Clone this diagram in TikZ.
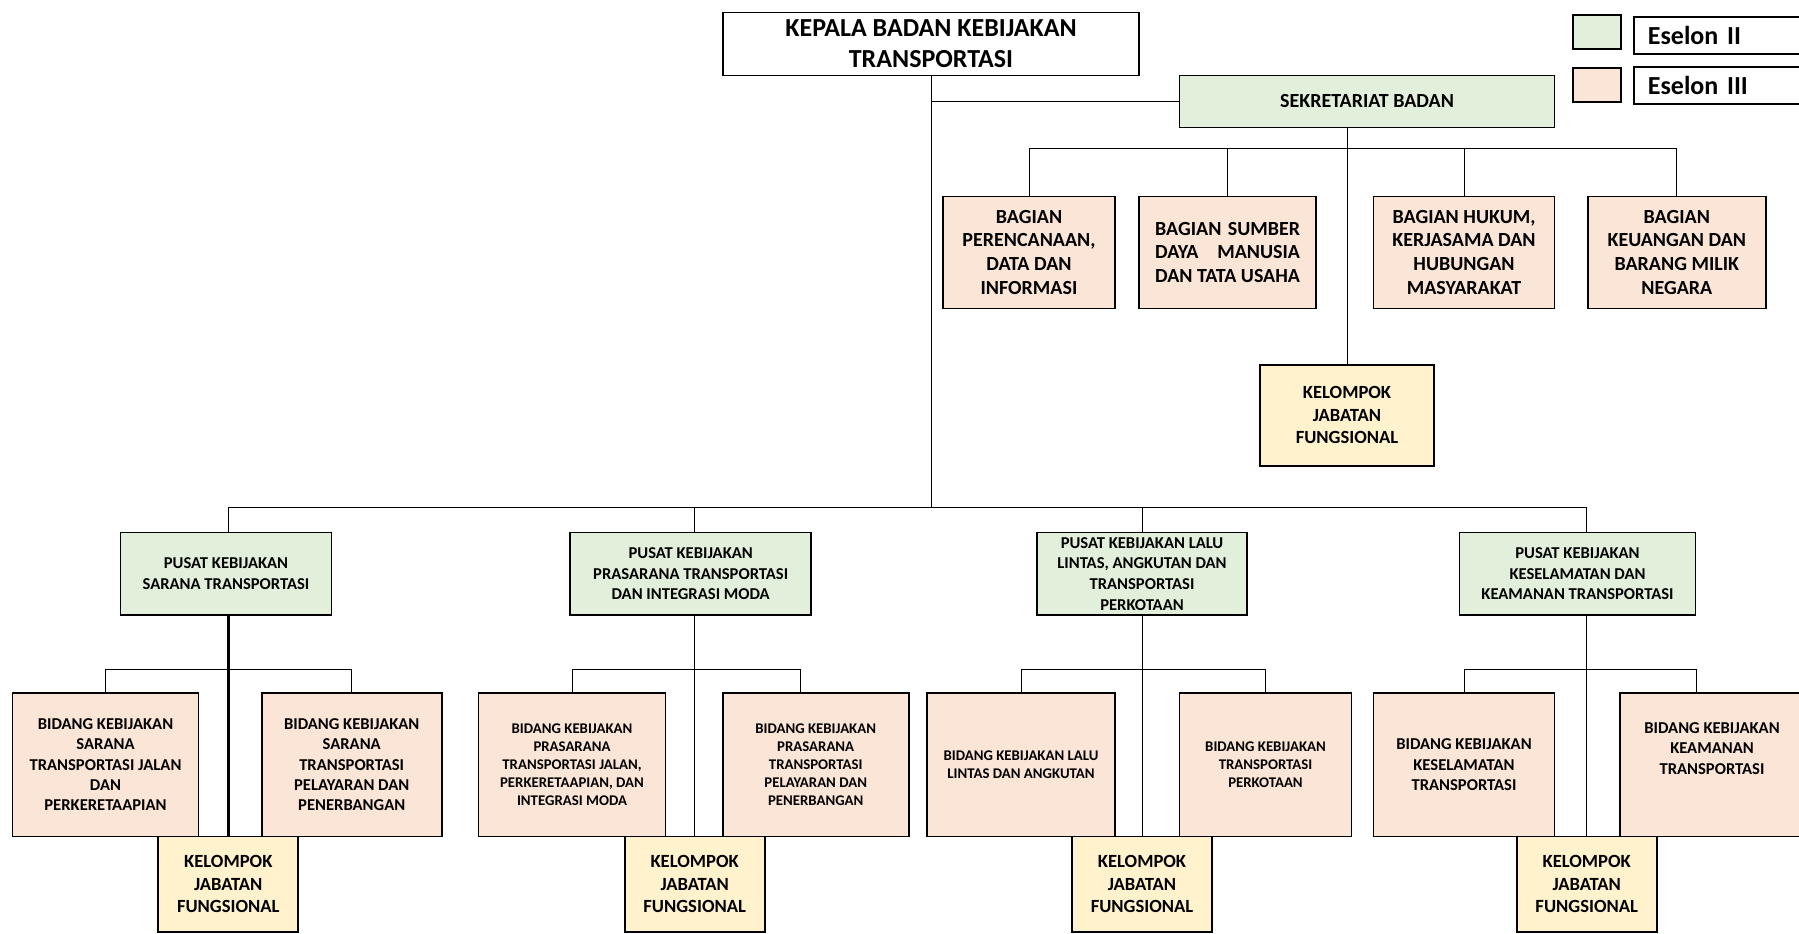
\documentclass[tikz,border=0pt]{standalone}
\usepackage{fontspec}
\usepackage{calc}
\setmainfont{Carlito}
\definecolor{esgreen}{HTML}{E2EFDA}
\definecolor{espeach}{HTML}{FBE5D6}
\definecolor{esyellow}{HTML}{FFF2CC}

\begin{document}
\begin{tikzpicture}[x=0.5pt, y=-0.5pt,
    box/.style={rectangle, draw, line width=0.9pt, inner sep=1pt, align=center},
    es2/.style={box, fill=esgreen},
    es3/.style={box, fill=espeach},
    ftitle/.style={font=\bfseries\fontsize{13}{15.5}\selectfont},
    fbag/.style={font=\bfseries\fontsize{10}{11.9}\selectfont},
    fpus/.style={font=\bfseries\fontsize{8.3}{10.3}\selectfont},
    fbid/.style={font=\bfseries\fontsize{8.3}{10.2}\selectfont},
    fsmall/.style={font=\bfseries\fontsize{7.4}{9}\selectfont},
    jfbox/.style={box, fill=esyellow, minimum width=70pt, minimum height=47.6pt,
      font=\bfseries\fontsize{9.3}{11.2}\selectfont},
    pusat/.style={es2, fpus, minimum height=41.3pt},
    bagian/.style={es3, fbag, minimum height=56pt},
    bidang/.style={es3, minimum height=71.7pt},
    leglbl/.style={draw, line width=0.9pt, anchor=west, text width=80pt, inner xsep=7pt,
      minimum height=18.5pt, align=left, ftitle},
    line/.style={line width=0.5pt}
  ]
    \clip (0,0) rectangle (1799,933);

    % Top
    \node[box, ftitle, fill=white, minimum width=208pt, minimum height=31.5pt] (kepala) at (931,44)
      {KEPALA BADAN KEBIJAKAN\\TRANSPORTASI};
    \node[es2, fbag, minimum width=187.5pt, minimum height=26pt] (sekretariat) at (1367,101.5)
      {SEKRETARIAT BADAN};

    % Legend
    \node[es2, minimum width=24pt, minimum height=17pt] (leg2) at (1597,32) {};
    \node[leglbl] (leg2txt) at (1633,35.5) {Eselon II};
    \node[es3, minimum width=24pt, minimum height=17pt] (leg3) at (1597,85) {};
    \node[leglbl] (leg3txt) at (1633,85.5) {Eselon III};

    % Bagian
    \node[bagian, minimum width=86pt] (bagian1) at (1029,252.4)
      {BAGIAN\\PERENCANAAN,\\DATA DAN\\INFORMASI};
    \node[bagian, minimum width=88.5pt] (bagian2) at (1227.6,252.4)
      {\makebox[\widthof{DAN TATA USAHA}][s]{BAGIAN SUMBER}\\
       \makebox[\widthof{DAN TATA USAHA}][s]{DAYA MANUSIA}\\DAN TATA USAHA};
    \node[bagian, minimum width=90.5pt] (bagian3) at (1464,252.4)
      {BAGIAN HUKUM,\\KERJASAMA DAN\\HUBUNGAN\\MASYARAKAT};
    \node[bagian, minimum width=89pt] (bagian4) at (1676.8,252.4)
      {BAGIAN\\KEUANGAN DAN\\BARANG MILIK\\NEGARA};
    \node[jfbox, minimum width=87pt, minimum height=50.5pt] (jfsek) at (1347,415.3)
      {KELOMPOK\\JABATAN\\FUNGSIONAL};

    % Pusat
    \node[pusat, minimum width=105.5pt] (pusat1) at (226,573.7)
      {PUSAT KEBIJAKAN\\SARANA TRANSPORTASI};
    \node[pusat, minimum width=120.5pt] (pusat2) at (690.7,573.7)
      {PUSAT KEBIJAKAN\\PRASARANA TRANSPORTASI\\DAN INTEGRASI MODA};
    \node[pusat, minimum width=105pt] (pusat3) at (1142,573.7)
      {PUSAT KEBIJAKAN LALU\\LINTAS, ANGKUTAN DAN\\TRANSPORTASI\\PERKOTAAN};
    \node[pusat, minimum width=118pt] (pusat4) at (1577.5,573.7)
      {PUSAT KEBIJAKAN\\KESELAMATAN DAN\\KEAMANAN TRANSPORTASI};

    % Bidang
    \node[bidang, fbid, minimum width=93pt] (bid1a) at (105.5,764.7)
      {BIDANG KEBIJAKAN\\SARANA\\TRANSPORTASI JALAN\\DAN\\PERKERETAAPIAN};
    \node[bidang, fbid, minimum width=90pt] (bid1b) at (351.7,764.7)
      {BIDANG KEBIJAKAN\\SARANA\\TRANSPORTASI\\PELAYARAN DAN\\PENERBANGAN};
    \node[bidang, fsmall, minimum width=93.5pt] (bid2a) at (572,764.7)
      {BIDANG KEBIJAKAN\\PRASARANA\\TRANSPORTASI JALAN,\\PERKERETAAPIAN, DAN\\INTEGRASI MODA};
    \node[bidang, fsmall, minimum width=93pt] (bid2b) at (815.7,764.7)
      {BIDANG KEBIJAKAN\\PRASARANA\\TRANSPORTASI\\PELAYARAN DAN\\PENERBANGAN};
    \node[bidang, fsmall, minimum width=94pt] (bid3a) at (1021,764.7)
      {BIDANG KEBIJAKAN LALU\\LINTAS DAN ANGKUTAN};
    \node[bidang, fsmall, minimum width=86pt] (bid3b) at (1265.5,764.7)
      {BIDANG KEBIJAKAN\\TRANSPORTASI\\PERKOTAAN};
    \node[bidang, fbid, minimum width=90.5pt] (bid4a) at (1464,764.7)
      {BIDANG KEBIJAKAN\\KESELAMATAN\\TRANSPORTASI};
    \node[bidang, fbid, minimum width=92pt] (bid4b) at (1712,764.7)
      {BIDANG KEBIJAKAN\\KEAMANAN\\TRANSPORTASI\\[6pt]};

    % Kelompok jabatan fungsional
    \node[jfbox] (jf1) at (228.3,884) {KELOMPOK\\JABATAN\\FUNGSIONAL};
    \node[jfbox] (jf2) at (694.7,884) {KELOMPOK\\JABATAN\\FUNGSIONAL};
    \node[jfbox] (jf3) at (1142,884) {KELOMPOK\\JABATAN\\FUNGSIONAL};
    \node[jfbox] (jf4) at (1586.7,884) {KELOMPOK\\JABATAN\\FUNGSIONAL};

    % Buses
    \coordinate (sbus) at (0,148);
    \coordinate (mbus) at (0,507);
    \coordinate (subbus) at (0,669);

    % Lines
    \draw[line] (kepala.south) -- (kepala.south |- mbus);
    \draw[line] (kepala.south |- sekretariat.west) -- (sekretariat.west);
    \draw[line] (jfsek.north |- sekretariat.south) -- (jfsek.north);
    \draw[line] (bagian1.north) -- (bagian1.north |- sbus) -- (bagian4.north |- sbus) -- (bagian4.north);
    \draw[line] (bagian2.north) -- (bagian2.north |- sbus);
    \draw[line] (bagian3.north) -- (bagian3.north |- sbus);

    \draw[line] (jf1.north |- mbus) -- (jf4.north |- mbus);
    \draw[line] (jf1.north |- mbus) -- (jf1.north |- pusat1.north);
    \draw[line] (jf2.north |- mbus) -- (jf2.north |- pusat2.north);
    \draw[line] (jf3.north |- mbus) -- (jf3.north |- pusat3.north);
    \draw[line] (jf4.north |- mbus) -- (jf4.north |- pusat4.north);

    \draw[line, line width=1.2pt] (jf1.north |- pusat1.south) -- (jf1.north);
    \draw[line] (jf2.north |- pusat2.south) -- (jf2.north);
    \draw[line] (jf3.north |- pusat3.south) -- (jf3.north);
    \draw[line] (jf4.north |- pusat4.south) -- (jf4.north);

    \draw[line] (bid1a.north) -- (bid1a.north |- subbus) -- (bid1b.north |- subbus) -- (bid1b.north);
    \draw[line] (bid2a.north) -- (bid2a.north |- subbus) -- ([xshift=-7.5pt]bid2b.north |- subbus) -- ([xshift=-7.5pt]bid2b.north);
    \draw[line] (bid3a.north) -- (bid3a.north |- subbus) -- (bid3b.north |- subbus) -- (bid3b.north);
    \draw[line] (bid4a.north) -- (bid4a.north |- subbus) -- ([xshift=-8pt]bid4b.north |- subbus) -- ([xshift=-8pt]bid4b.north);
  \end{tikzpicture}
\end{document}
